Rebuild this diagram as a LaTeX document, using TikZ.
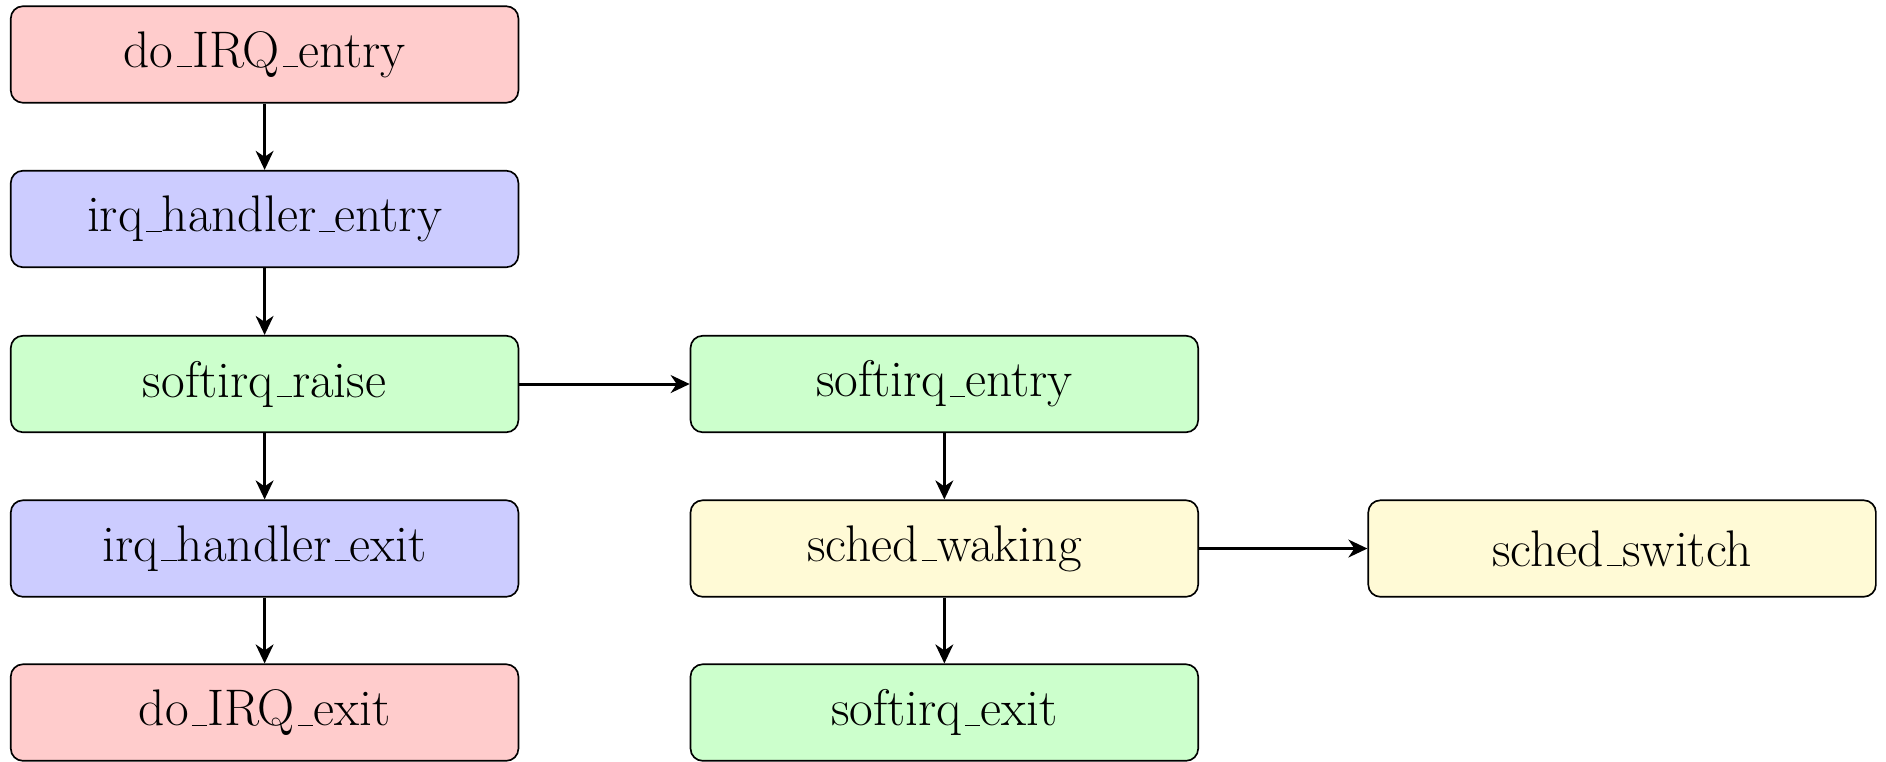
\documentclass[tikz,border=0pt]{standalone}
\usetikzlibrary{arrows.meta}
\definecolor{irqred}{RGB}{255,204,204}
\definecolor{handlerblue}{RGB}{204,204,255}
\definecolor{softgreen}{RGB}{204,255,204}
\definecolor{schedyellow}{RGB}{255,250,214}
% low, narrow underscore rule
\newcommand\us{\leavevmode\kern.06em\vbox{\hrule width.3em}}
\tikzset{
  event/.style={draw=black, line width=0.7pt, rounded corners=0.18cm,
    minimum width=7.52cm, minimum height=1.43cm, inner sep=0pt,
    font=\fontsize{21.7}{26}\selectfont},
  flow/.style={-{Stealth[length=8pt, width=7.5pt, inset=2.5pt]}, line width=1.25pt}
}
\begin{document}
\begin{tikzpicture}
\useasboundingbox (0,0) rectangle (27.94,-11.274);
% interrupt path
\node[event, fill=irqred]      (doentry)  at (3.92,-0.807)  {do\us IRQ\us entry};
\node[event, fill=handlerblue] (hentry)   at (3.92,-3.244)  {irq\us handler\us entry};
\node[event, fill=softgreen]   (raise)    at (3.92,-5.689)  {softirq\us raise};
\node[event, fill=handlerblue] (hexit)    at (3.92,-8.126)  {irq\us handler\us exit};
\node[event, fill=irqred]      (doexit)   at (3.92,-10.556) {do\us IRQ\us exit};
% softirq path
\node[event, fill=softgreen]   (sentry)   at (13.99,-5.689) {softirq\us entry};
\node[event, fill=schedyellow] (waking)   at (13.99,-8.126) {sched\us waking};
\node[event, fill=softgreen]   (sexit)    at (13.99,-10.556){softirq\us exit};
% scheduler
\node[event, fill=schedyellow] (switch)   at (24.03,-8.126) {sched\us switch};

\draw[flow] (doentry) -- (hentry);
\draw[flow] (hentry) -- (raise);
\draw[flow] (raise) -- (hexit);
\draw[flow] (hexit) -- (doexit);
\draw[flow] (raise) -- (sentry);
\draw[flow] (sentry) -- (waking);
\draw[flow] (waking) -- (sexit);
\draw[flow] (waking) -- (switch);
\end{tikzpicture}
\end{document}
